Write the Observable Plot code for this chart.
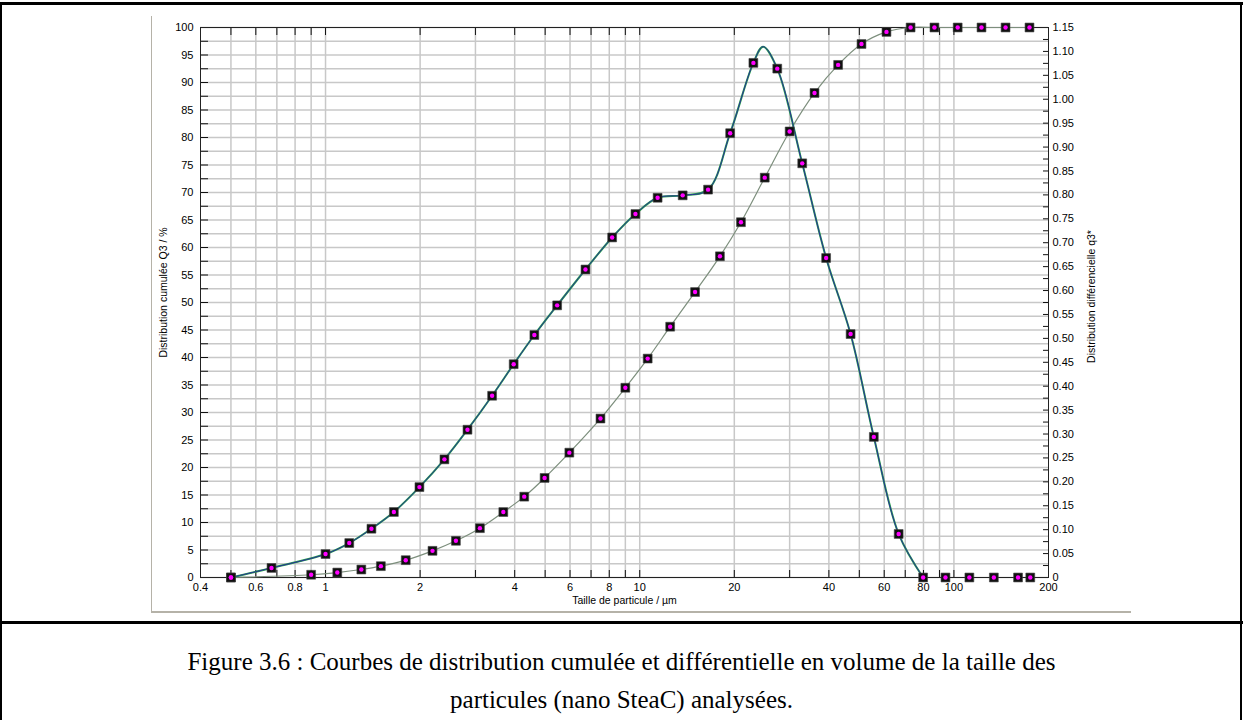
<!DOCTYPE html>
<html><head><meta charset="utf-8">
<script src="https://cdn.jsdelivr.net/npm/d3@7"></script>
<script src="https://cdn.jsdelivr.net/npm/@observablehq/plot@0.6"></script>
<style>
body{margin:0;background:#fff;width:1243px;height:720px;position:relative;overflow:hidden;font-family:"Liberation Sans",Arial,sans-serif}
#chart{position:absolute;left:0;top:0}
.caption{position:absolute;left:0;width:1243px;top:643px;text-align:center;font-family:"Liberation Serif","Times New Roman",serif;font-size:25px;line-height:38px;color:#000}
.b{position:absolute;background:#000}
.g{position:absolute;background:#b5b2a8}
</style></head><body>
<div id="chart"></div>
<div class="g" style="left:151px;top:16px;width:1px;height:596px"></div>
<div class="g" style="left:151px;top:611px;width:980px;height:2px"></div>
<div class="b" style="left:0;top:2px;width:1243px;height:3px"></div>
<div class="b" style="left:0;top:2px;width:2px;height:718px"></div>
<div class="b" style="left:1240px;top:2px;width:2px;height:718px"></div>
<div class="b" style="left:0;top:621px;width:1243px;height:3px"></div>
<div class="caption">Figure 3.6 : Courbes de distribution cumulée et différentielle en volume de la taille des<br>particules (nano SteaC) analysées.</div>
<script>
// Cumulative distribution Q3 (%) – left axis
const cumSize = [0.5, 0.9, 1.09, 1.3, 1.5, 1.8, 2.19, 2.6, 3.1, 3.68, 4.29, 4.98, 5.97, 7.5, 9.0, 10.6, 12.5, 15.0, 18.0, 21.0, 25.0, 30.0, 36.0, 42.8, 50.8, 61.0, 72.8, 86.7, 102.8, 122.4, 146, 174];
const cumQ3 = [0, 0.5, 0.9, 1.45, 2.06, 3.15, 4.85, 6.67, 8.97, 11.9, 14.7, 18.1, 22.7, 28.9, 34.5, 39.8, 45.6, 51.9, 58.4, 64.6, 72.7, 81.1, 88.1, 93.2, 97.0, 99.2, 100, 100, 100, 100, 100, 100];
// Differential distribution q3* – right axis (measured points)
const diffSize = [0.5, 0.673, 1.0, 1.19, 1.40, 1.65, 1.99, 2.39, 2.83, 3.39, 3.97, 4.62, 5.46, 6.72, 8.17, 9.69, 11.4, 13.7, 16.5, 19.4, 23.0, 27.4, 32.9, 39.2, 46.9, 55.6, 66.7, 79.8, 94, 112, 134, 160, 175];
const diffQ3 = [0, 0.020, 0.049, 0.072, 0.102, 0.137, 0.189, 0.247, 0.309, 0.380, 0.446, 0.507, 0.569, 0.644, 0.711, 0.760, 0.794, 0.799, 0.811, 0.929, 1.076, 1.064, 0.866, 0.668, 0.509, 0.294, 0.091, 0, 0, 0, 0, 0, 0];
// apex of the fitted q3* curve
const diffPeakSize = 24.7;
const diffPeakQ3 = 1.11;

const leftMax = 100, rightMax = 1.15;
const xLabels = [0.4, 0.6, 0.8, 1, 2, 4, 6, 8, 10, 20, 40, 60, 80, 100, 200];
const xGrid = [0.5, 0.6, 0.7, 0.8, 0.9, 1, 2, 3, 4, 5, 6, 7, 8, 9, 10, 20, 30, 40, 50, 60, 70, 80, 90, 100];
const yLabels = [0, 5, 10, 15, 20, 25, 30, 35, 40, 45, 50, 55, 60, 65, 70, 75, 80, 85, 90, 95, 100];
const rLabels = [0, 0.05, 0.10, 0.15, 0.20, 0.25, 0.30, 0.35, 0.40, 0.45, 0.50, 0.55, 0.60, 0.65, 0.70, 0.75, 0.80, 0.85, 0.90, 0.95, 1.00, 1.05, 1.10, 1.15];

const yMinor = d3.range(0, 100.01, 2.5);
const rMinor = d3.range(0, 1.1501, 0.025);
const toLeft = q => q * leftMax / rightMax;

const cum = cumSize.map((x, i) => ({x, y: cumQ3[i]}));
const diff = diffSize.map((x, i) => ({x, y: toLeft(diffQ3[i])}));
const diffLine = diff.filter(d => d.x <= 80).concat([{x: diffPeakSize, y: toLeft(diffPeakQ3)}]).sort((a, b) => a.x - b.x);
const allPts = cum.concat(diff);

const fmtR = v => v === 0 ? "0" : v.toFixed(2);

const chart = Plot.plot({
  width: 1243, height: 620,
  marginLeft: 200, marginRight: 195, marginTop: 27, marginBottom: 43,
  x: {type: "log", domain: [0.4, 200]},
  y: {domain: [0, 100]},
  style: {fontFamily: "'Liberation Sans', Arial, sans-serif", fontSize: "11px", background: "transparent", color: "#000"},
  marks: [
    Plot.gridX(xGrid, {stroke: "#c8c8c8", strokeOpacity: 1, strokeWidth: 1.5}),
    Plot.gridY(yMinor, {stroke: "#c8c8c8", strokeOpacity: 1, strokeWidth: 1.5}),
    Plot.axisX(xGrid, {anchor: "bottom", tickSize: -7, tickFormat: () => "", label: null, stroke: "#111"}),
    Plot.axisX(xGrid, {anchor: "top", tickSize: -7, tickFormat: () => "", label: null, stroke: "#111"}),
    Plot.text(xLabels, {x: d => d, frameAnchor: "bottom", textAnchor: "middle", lineAnchor: "top", dy: 6, text: d => String(d), fontSize: 11}),
    Plot.axisY(yMinor, {anchor: "left", tickSize: -8, tickFormat: () => "", label: null, stroke: "#111"}),
    Plot.axisY(yLabels, {anchor: "left", tickSize: 0, tickPadding: 7, tickFormat: d => String(d), label: null}),
    Plot.axisY(rMinor.map(toLeft), {anchor: "right", tickSize: -6, tickFormat: () => "", label: null, stroke: "#111"}),
    Plot.axisY(rLabels.map(toLeft), {anchor: "right", tickSize: 0, tickPadding: 4, tickFormat: v => fmtR(Math.round(v * rightMax / leftMax * 100) / 100), label: null}),
    Plot.frame({stroke: "#222"}),
    Plot.text(["Distribution cumulée Q3 / %"], {frameAnchor: "left", textAnchor: "middle", dx: -37, dy: -10, rotate: -90, text: d => d, fontSize: 10.5}),
    Plot.text(["Distribution différencielle q3*"], {frameAnchor: "right", textAnchor: "middle", dx: 43, dy: -6, rotate: -90, text: d => d, fontSize: 10.5}),
    Plot.text(["Taille de particule / µm"], {frameAnchor: "bottom", dy: 26, text: d => d, fontSize: 10.5}),
    Plot.line(cum, {x: "x", y: "y", curve: "catmull-rom", stroke: "#7d8f7d", strokeWidth: 1.2}),
    Plot.line(diffLine, {x: "x", y: "y", curve: "catmull-rom", stroke: "#25a04a", strokeWidth: 2}),
    Plot.line(diffLine, {x: "x", y: "y", curve: "catmull-rom", stroke: "#2a2f9a", strokeWidth: 1}),
    Plot.dot(allPts, {x: "x", y: "y", symbol: "square", r: 5, fill: "#111", stroke: "#444", strokeWidth: 0.6}),
    Plot.dot(allPts, {x: "x", y: "y", r: 2.2, fill: "#ff00ff"})
  ]
});
document.getElementById("chart").appendChild(chart);
</script>
</body></html>
